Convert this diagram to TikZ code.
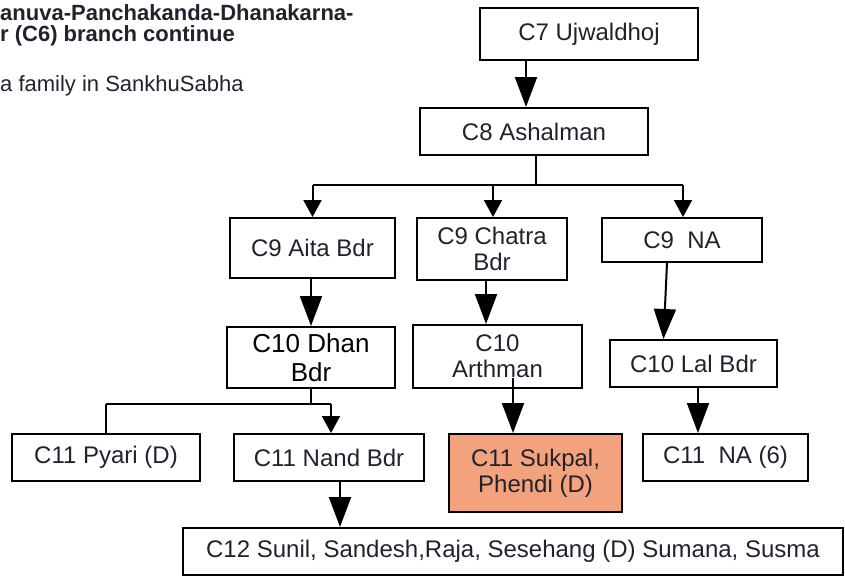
\documentclass[tikz,border=0pt]{standalone}
\usepackage{fontspec}
\setmainfont{Liberation Sans}
\usetikzlibrary{arrows.meta}
\definecolor{txt}{HTML}{22222E}
\definecolor{hl}{HTML}{F2A27C}
\begin{document}
\begin{tikzpicture}[x=1pt,y=-1pt,
  box/.style={draw=black, line width=2pt, inner sep=0pt, align=center,
    text=txt, font=\fontsize{24}{26}\selectfont},
  conn/.style={draw=black, line width=2pt},
  barr/.style={conn, -{Triangle[length=30pt,width=22pt]}},
  sarr/.style={conn, -{Triangle[length=17pt,width=18pt]}},
  head/.style={anchor=west, inner sep=0pt, text=txt}]
\useasboundingbox (0,0) rectangle (845,578);
\fill[white] (0,0) rectangle (845,578);
% heading
\node[head, font=\bfseries\fontsize{22}{24}\selectfont] (h1) at (0,13) {anuva-Panchakanda-Dhanakarna-};
\node[head, font=\bfseries\fontsize{22}{24}\selectfont] (h2) at (0,36) {r (C6) branch continue};
\node[head, font=\fontsize{22}{24}\selectfont] (h3) at (0,86) {a family in SankhuSabha};
% boxes
\node[box, minimum width=218pt, minimum height=52pt] (C7) at (589,34) {C7 Ujwaldhoj};
\node[box, minimum width=228pt, minimum height=47pt] (C8) at (534,131.5) {C8 Ashalman};
\node[box, minimum width=165pt, minimum height=60pt] (C9a) at (312.5,248) {C9 Aita Bdr};
\node[box, minimum width=150pt, minimum height=62pt] (C9c) at (492,249) {C9 Chatra\\Bdr};
\node[box, minimum width=160pt, minimum height=44pt] (C9n) at (682,240) {C9~~NA};
\node[box, minimum width=168pt, minimum height=61pt, text=black, font=\fontsize{26}{29}\selectfont] (C10d) at (311,357.5) {C10 Dhan\\Bdr};
\node[box, minimum width=169pt, minimum height=63pt] (C10a) at (497.5,356.5) {C10\\Arthman};
\node[box, minimum width=167pt, minimum height=47pt] (C10l) at (693.5,363.5) {C10 Lal Bdr};
\node[box, minimum width=188pt, minimum height=47pt] (C11p) at (106,457.5) {C11 Pyari (D)};
\node[box, minimum width=190pt, minimum height=47pt] (C11n) at (329,457.5) {C11 Nand Bdr};
\node[box, fill=hl, minimum width=173pt, minimum height=78pt] (C11s) at (535.5,473) {C11 Sukpal,\\Phendi (D)};
\node[box, minimum width=165pt, minimum height=47pt] (C11na) at (725.5,457.5) {C11~~NA (6)};
\node[box, minimum width=660pt, minimum height=47pt] (C12) at (513,551.5) {C12 Sunil, Sandesh,Raja, Sesehang (D) Sumana, Susma};
% connectors
\draw[barr] ([xshift=-63pt]C7.south) -- ([xshift=-63pt]C7.south |- C8.north);
\draw[conn] ([xshift=2pt]C8.south) -- ++(0,29) coordinate (j8);
\draw[conn] (C9a.north |- j8) -- ([xshift=1pt]C9n.north |- j8);
\draw[sarr] (C9a.north |- j8) -- (C9a.north);
\draw[sarr] ([xshift=1pt]C9c.north |- j8) -- ([xshift=1pt]C9c.north);
\draw[sarr] ([xshift=1pt]C9n.north |- j8) -- ([xshift=1pt]C9n.north);
\draw[barr] ([xshift=-1.5pt]C9a.south) -- ([xshift=-1.5pt]C9a.south |- C10d.north);
\draw[barr] ([xshift=-6pt]C9c.south) -- ([xshift=-6pt]C9c.south |- C10a.north);
\draw[barr] ([xshift=-15pt]C9n.south) -- ([xshift=-30pt]C10l.north);
\draw[conn] (C10d.south) -- ++(0,15) coordinate (j10);
\draw[conn] (C11p.north |- j10) -- ([xshift=2pt]C11n.north |- j10);
\draw[conn] (C11p.north |- j10) -- (C11p.north);
\draw[sarr] ([xshift=2pt]C11n.north |- j10) -- ([xshift=2pt]C11n.north);
\draw[barr] ([xshift=15.5pt,yshift=11pt]C10a.south) -- ([xshift=-22.5pt]C11s.north);
\draw[barr] ([xshift=4.5pt]C10l.south) -- ([xshift=4.5pt]C10l.south |- C11na.north);
\draw[barr] ([xshift=11pt]C11n.south) -- ([xshift=11pt]C11n.south |- C12.north);
\end{tikzpicture}
\end{document}
